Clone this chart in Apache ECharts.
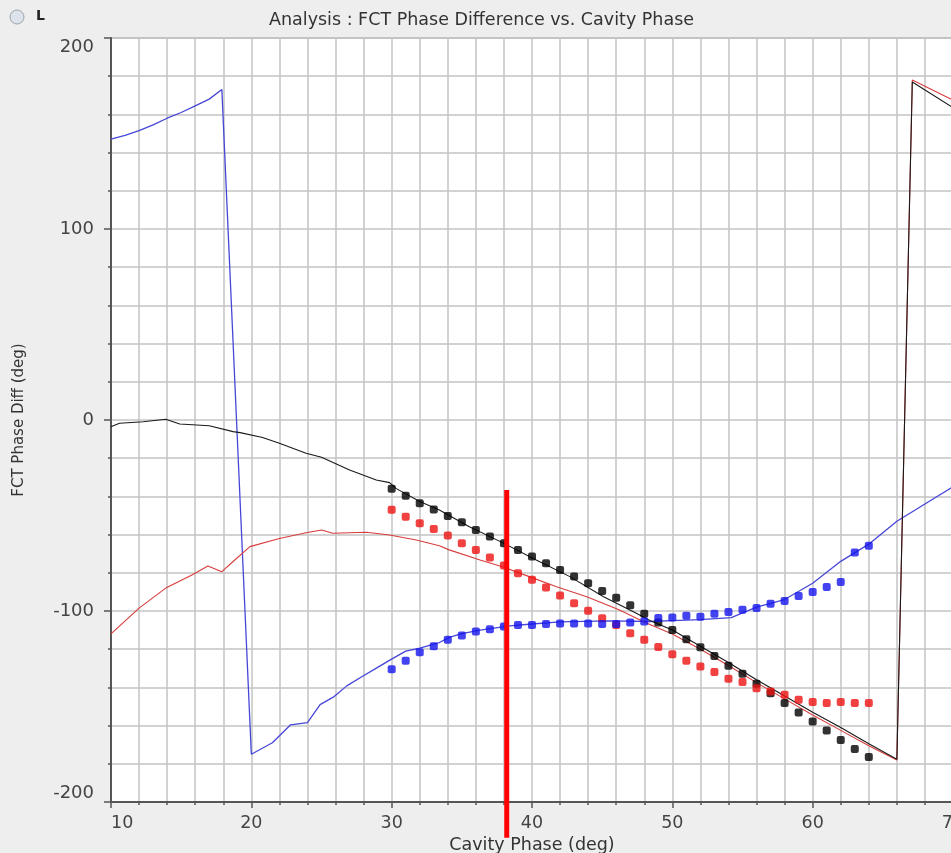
<!DOCTYPE html>
<html>
<head>
<meta charset="utf-8">
<title>FCT Phase Difference vs. Cavity Phase</title>
<script src="https://cdn.jsdelivr.net/npm/echarts@6/dist/echarts.min.js"></script>
<style>
  html, body { margin: 0; padding: 0; background: #eeeeee; }
  #chart { width: 951px; height: 853px; }
</style>
</head>
<body>
<div id="chart"></div>
<script>
// Model curves: [cavity phase, FCT phase diff]
const blueModel = [
  [10, 147], [11, 149], [12, 151.5], [13, 154.5], [14, 158], [15, 161], [16, 164.5],
  [17, 168], [17.9, 173], [20, -175], [21.5, -169], [22.8, -159.6], [24, -158.4],
  [24.9, -149], [25.9, -144.8], [26.8, -139.2], [27.9, -134.3], [29, -129.5],
  [29.9, -125.6], [31, -121], [32, -119.5], [33.4, -116.5], [34.1, -113.8],
  [35, -111.8], [36.3, -110], [38.4, -107.8], [40, -106.8], [42, -105.7],
  [45.5, -105.2], [48.4, -105.5], [50, -105], [52, -104.5], [54.2, -103.5],
  [56, -98], [58, -94], [60, -85.5], [62, -74], [64, -65], [66, -53], [68, -44], [70, -35]
];
const blackModel = [
  [10, -3.5], [10.6, -1.7], [12.3, -0.9], [13.9, 0.4], [14.9, -2.1], [17, -3],
  [18.7, -6.1], [19.2, -6.6], [20.8, -9.2], [22, -12.2], [23.9, -17.4], [25, -19.5],
  [27, -26.2], [28.9, -31.4], [29.85, -32.8], [30.3, -35.8], [32, -42.7], [33.4, -47.1],
  [35.5, -55.8], [37.9, -64.2], [40.3, -73.3], [42.7, -82], [45.1, -92.5], [47.4, -101],
  [48.4, -105], [50, -110], [52, -118.5], [54, -127], [56, -136], [58, -144.5],
  [60, -153], [62, -161], [64, -169.5], [66, -177.6], [67.1, 177], [70, 163.5]
];
const redModel = [
  [10, -112], [12, -98.5], [13.9, -88], [15.8, -81], [16.9, -76.4], [17.9, -79.4],
  [18.7, -74.1], [19.9, -66.3], [22, -62], [23.9, -59], [25, -57.6], [25.8, -59.3],
  [27, -59], [28.2, -58.8], [29.85, -60.2], [31.75, -62.8], [33.4, -65.8], [34.1, -68],
  [36.3, -73.3], [37.9, -76.8], [39.8, -82], [41.7, -87.2], [43.9, -92.5], [46.2, -99.4],
  [48.1, -106.2], [50, -112], [52, -120], [54, -128.5], [56, -137.5], [58, -146],
  [60, -154.5], [62, -162.5], [64, -170.5], [66, -178], [67.1, 178], [70, 167.5]
];

// Measured points, one per degree of cavity phase
const measPhase = [30, 31, 32, 33, 34, 35, 36, 37, 38, 39, 40, 41, 42, 43, 44, 45, 46, 47,
  48, 49, 50, 51, 52, 53, 54, 55, 56, 57, 58, 59, 60, 61, 62, 63, 64];
const blackMeas = [-36, -39.7, -43.6, -46.9, -50.2, -53.5, -57.6, -61, -64.5, -68, -71.5,
  -75, -78.5, -82, -85.5, -89.5, -93, -97, -101.5, -106, -110, -114.8, -119, -123.5,
  -128.6, -132.9, -138.1, -143, -148.2, -153.1, -157.9, -162.6, -167.5, -172.2, -176.5];
const redMeas = [-47, -50.6, -54, -57.1, -60.5, -64.5, -68, -72, -76.2, -80.2, -83.7,
  -87.7, -91.9, -95.9, -99.9, -103.8, -107.3, -111.6, -115.1, -118.8, -122.6, -126, -129,
  -132, -135.5, -137.2, -140.4, -142.1, -143.9, -146.5, -147.7, -148.2, -147.7, -148.2, -148.2];
const blueMeas = [-130.5, -126, -121.6, -118.5, -115, -112.8, -110.7, -109.5, -108.1,
  -107.3, -107.3, -106.8, -106.5, -106.5, -106.5, -106.8, -106.8, -106, -105.5, -103.6,
  -103.4, -102.5, -103, -101.5, -100.5, -99.3, -98.4, -96.2, -94.8, -92.1, -90, -87.4,
  -84.8, -69.4, -65.9];

// Vertical marker at the chosen cavity phase
const markerX = [38.2, 38.2];
const markerY = [-36.6, -218.7];

const titleText = 'Analysis : FCT Phase Difference vs. Cavity Phase';
const xName = 'Cavity Phase (deg)';
const yName = 'FCT Phase Diff (deg)';

const pairs = (xs, ys) => xs.map((x, i) => [x, ys[i]]);

const FONT = 'DejaVu Sans';
const gridLine = { show: true, lineStyle: { color: '#c4c4c4', width: 1.5 } };

const chart = echarts.init(document.getElementById('chart'), null, { renderer: 'canvas' });

chart.setOption({
  backgroundColor: '#eeeeee',
  animation: false,
  title: {
    text: titleText,
    left: 264,
    top: 6,
    textStyle: { fontFamily: FONT, fontSize: 17.5, fontWeight: 'normal', color: '#333' }
  },
  graphic: [
    {
      type: 'circle', shape: { cx: 17, cy: 17, r: 7 },
      style: { fill: '#dde3ea', stroke: '#9aa3ad', lineWidth: 1 }
    },
    {
      type: 'text', left: 36, top: 9,
      style: { text: 'L', fontFamily: FONT, fontSize: 14, fontWeight: 'bold', fill: '#222' }
    }
  ],
  grid: {
    left: 111, right: -2, top: 38, bottom: 51,
    outerBoundsMode: 'none', containLabel: false,
    show: true, backgroundColor: '#ffffff', borderColor: '#888', borderWidth: 1
  },
  xAxis: {
    type: 'value', min: 10, max: 70, interval: 10,
    name: xName, nameLocation: 'middle', nameGap: 33,
    nameTextStyle: { fontFamily: FONT, fontSize: 17.5, color: '#333' },
    axisLine: { show: true, onZero: false, lineStyle: { color: '#555', width: 2 } },
    axisTick: { show: true, length: 6, lineStyle: { color: '#555', width: 1.5 } },
    minorTick: { show: true, splitNumber: 5, length: 3, lineStyle: { color: '#555', width: 1.5 } },
    axisLabel: {
      fontFamily: FONT, fontSize: 17.5, color: '#444', margin: 12,
      alignMinLabel: 'left'
    },
    splitLine: gridLine,
    minorSplitLine: gridLine
  },
  yAxis: {
    type: 'value', min: -200, max: 200, interval: 100,
    name: yName, nameLocation: 'middle', nameGap: 84, nameRotate: 90,
    nameTextStyle: { fontFamily: FONT, fontSize: 15, color: '#333' },
    axisLine: { show: true, onZero: false, lineStyle: { color: '#555', width: 2 } },
    axisTick: { show: true, length: 7, lineStyle: { color: '#555', width: 1.5 } },
    minorTick: { show: true, splitNumber: 5, length: 3, lineStyle: { color: '#555', width: 1.5 } },
    axisLabel: {
      fontFamily: FONT, fontSize: 18, color: '#444', margin: 17,
      verticalAlignMaxLabel: 'top', verticalAlignMinLabel: 'bottom'
    },
    splitLine: gridLine,
    minorSplitLine: gridLine
  },
  series: [
    {
      name: 'blue model', type: 'line', data: blueModel, showSymbol: false,
      lineStyle: { color: '#4646d8', width: 1.3 }, z: 2
    },
    {
      name: 'red model', type: 'line', data: redModel, showSymbol: false,
      lineStyle: { color: '#d83c3c', width: 1.1 }, z: 2
    },
    {
      name: 'black model', type: 'line', data: blackModel, showSymbol: false,
      lineStyle: { color: '#1a1a1a', width: 1.1 }, z: 3
    },
    {
      name: 'black measured', type: 'scatter', data: pairs(measPhase, blackMeas),
      symbol: 'roundRect', symbolSize: 8, itemStyle: { color: '#000000' }, z: 4
    },
    {
      name: 'red measured', type: 'scatter', data: pairs(measPhase, redMeas),
      symbol: 'roundRect', symbolSize: 8, itemStyle: { color: '#ee1111' }, z: 4
    },
    {
      name: 'blue measured', type: 'scatter', data: pairs(measPhase, blueMeas),
      symbol: 'roundRect', symbolSize: 8, itemStyle: { color: '#1414ee' }, z: 4
    },
    {
      name: 'marker', type: 'line', data: pairs(markerX, markerY), showSymbol: false,
      clip: false, lineStyle: { color: '#ff0000', width: 5 }, z: 10
    }
  ]
});
</script>
</body>
</html>
